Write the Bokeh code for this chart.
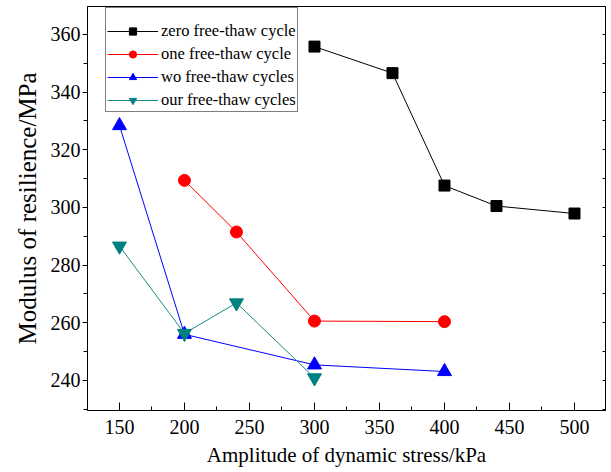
from bokeh.plotting import figure
from bokeh.models import (LinearAxis, Range1d, Legend, LegendItem,
                          SingleIntervalTicker, CustomJSTickFormatter)
from bokeh.embed import file_html
from bokeh.resources import INLINE

# ---- data ----
x_zero = [300, 360, 400, 440, 500]
y_zero = [355.8, 346.6, 307.6, 300.5, 297.9]
x_one = [200, 240, 300, 400]
y_one = [309.4, 291.5, 260.6, 260.4]
x_two = [150, 200, 300, 400]
y_two = [328.4, 256.0, 245.4, 243.1]
x_four = [150, 200, 240, 300]
y_four = [286.6, 256.3, 266.9, 240.9]

labels = ["zero free-thaw cycle", "one free-thaw cycle",
          "wo free-thaw cycles", "our free-thaw cycles"]
x_title = "Amplitude of dynamic stress/kPa"
y_title = "Modulus of resilience/MPa"

FONT = "Liberation Serif"

p = figure(width=611, height=472, output_backend="svg", toolbar_location=None,
           x_range=Range1d(125.4, 523.85), y_range=Range1d(229.58, 369.71),
           min_border_left=87, min_border_right=6, min_border_top=6,
           min_border_bottom=62)
p.xgrid.visible = False
p.ygrid.visible = False
p.outline_line_color = "black"
p.outline_line_width = 1
p.background_fill_color = "white"
p.border_fill_color = "white"

# axes
xa = p.xaxis[0]
xa.ticker = SingleIntervalTicker(interval=50, num_minor_ticks=2)
xa.major_tick_in = 8
xa.major_tick_out = 0
xa.minor_tick_in = 4
xa.minor_tick_out = 0
xa.major_label_standoff = 9
xa.axis_label = x_title
xa.axis_label_standoff = 6
xa.axis_label_text_font = FONT
xa.axis_label_text_font_size = "21px"
xa.axis_label_text_font_style = "normal"
xa.major_label_text_font = FONT
xa.major_label_text_font_size = "20px"

ya = p.yaxis[0]
ya.ticker = SingleIntervalTicker(interval=20, num_minor_ticks=2)
ya.major_tick_in = 0
ya.major_tick_out = 5
ya.minor_tick_in = 0
ya.minor_tick_out = 4
ya.major_label_standoff = 2
ya.axis_label = y_title
ya.axis_label_standoff = 7
ya.axis_label_text_font = FONT
ya.axis_label_text_font_size = "25px"
ya.axis_label_text_font_style = "normal"
ya.major_label_text_font = FONT
ya.major_label_text_font_size = "20px"

for ax in (xa, ya):
    ax.axis_line_color = "black"
    ax.major_tick_line_color = "black"
    ax.minor_tick_line_color = "black"
    ax.major_label_text_color = "black"
    ax.axis_label_text_color = "black"

ra = LinearAxis(ticker=SingleIntervalTicker(interval=10, num_minor_ticks=0),
                formatter=CustomJSTickFormatter(code="return ''"),
                major_tick_in=3, major_tick_out=0, minor_tick_in=0, minor_tick_out=0,
                major_label_standoff=0,
                axis_line_color="black", major_tick_line_color="black")
p.add_layout(ra, "right")

# series
series = [
    (x_zero, y_zero, "black", "black", "square", 11),
    (x_one, y_one, "red", "red", "circle", 12),
    (x_two, y_two, "blue", "blue", "triangle", 14),
    (x_four, y_four, "#1a8a84", "#008080", "inverted_triangle", 14),
]
items = []
for (xs, ys, lc, mc, mk, sz), lab in zip(series, labels):
    l = p.line(xs, ys, line_color=lc, line_width=1)
    s = p.scatter(xs, ys, marker=mk, size=sz, fill_color=mc, line_color=mc)
    items.append(LegendItem(label=lab, renderers=[l, s]))

leg = Legend(items=items, location=(18, 298),
             title=" ", title_text_font_size="11px", title_standoff=0,
             padding=1, spacing=3, label_height=18, glyph_height=18,
             glyph_width=51, label_standoff=3,
             label_text_font=FONT, label_text_font_size="16.5px",
             label_text_color="black",
             border_line_color="black", border_line_width=1,
             background_fill_color="white", background_fill_alpha=1.0)
p.add_layout(leg)

open("out.html", "w").write(file_html(p, INLINE))
